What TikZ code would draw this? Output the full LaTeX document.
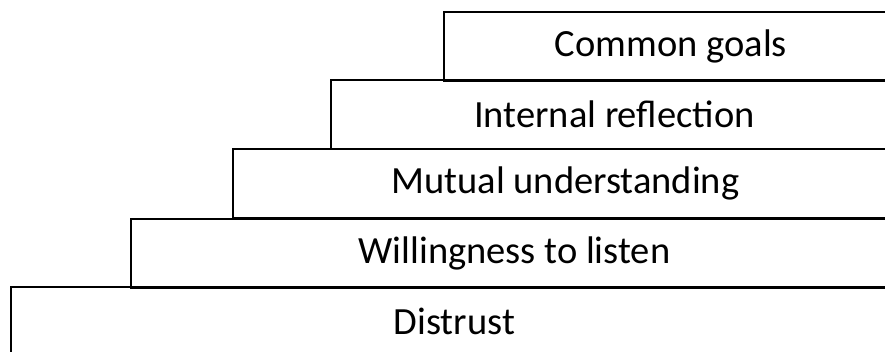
\documentclass[tikz,border=0pt]{standalone}
\usepackage{fontspec}
\setmainfont{Carlito}
\usepackage{tikz}

\tikzset{
  stepbox/.style={draw=black, line width=1.8pt, rectangle, anchor=north west,
    inner sep=0pt, minimum height=69pt, font=\fontsize{38.5}{44}\selectfont}
}

\begin{document}
\begin{tikzpicture}[x=1pt, y=-1pt]
    % Frame of the picture
    \useasboundingbox (0, 0) rectangle (885, 351);
    \clip (0, 0) rectangle (885, 351);

    % Steps, from bottom to top (they run out past the right edge)
    \node[stepbox, minimum width=887pt] (distrust) at (10, 286) {Distrust};
    \node[stepbox, minimum width=767pt] (listen) at (130, 218) {Willingness to listen};
    \node[stepbox, minimum width=665pt] (mutual) at (232, 148) {Mutual understanding};
    \node[stepbox, minimum width=567pt] (reflect) at (330, 79) {Internal reflection};
    \node[stepbox, minimum width=454pt] (goals) at (443, 11) {Common goals};
\end{tikzpicture}
\end{document}
